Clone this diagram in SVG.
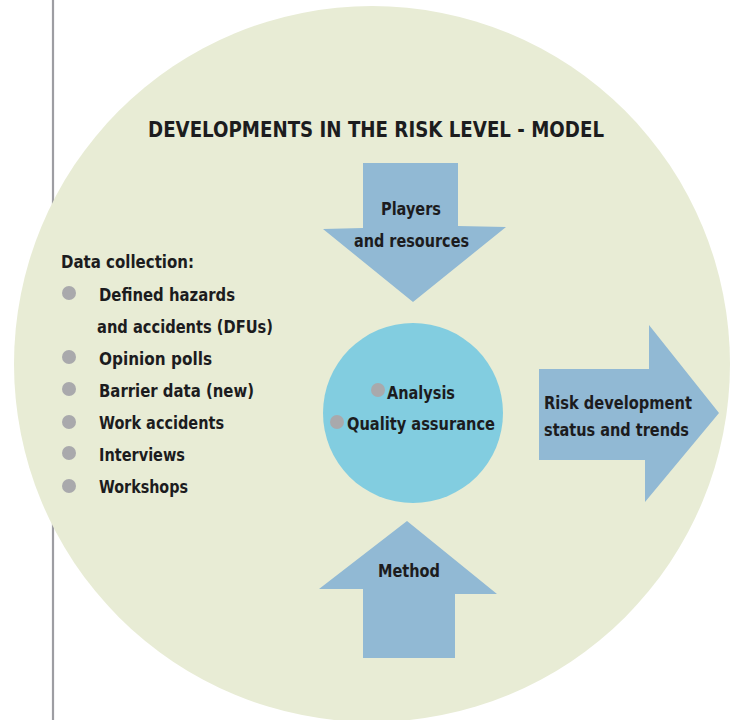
<svg xmlns="http://www.w3.org/2000/svg" width="731" height="720" viewBox="0 0 731 720">
<style>
.t{font-family:"DejaVu Sans Condensed","DejaVu Sans","Liberation Sans",sans-serif;font-weight:bold;fill:#1c1c1e;font-size:18.5px}
.ttl{font-size:21px}
.arrow{fill:#91b9d4}
.dot{fill:#a9a9ac}
</style>
<rect width="731" height="720" fill="#ffffff"/>
<line x1="53" y1="0" x2="53" y2="720" stroke="#9d9da2" stroke-width="2.2"/>
<g id="background">
<circle cx="372" cy="364" r="358" fill="#e8ecd5"/>
</g>
<g id="title">
<text class="t ttl" x="148" y="137" textLength="456" lengthAdjust="spacingAndGlyphs">DEVELOPMENTS IN THE RISK LEVEL - MODEL</text>
</g>
<g id="data-collection">
<text class="t" x="61" y="268" textLength="133" lengthAdjust="spacingAndGlyphs">Data collection:</text>
<circle class="dot" cx="69" cy="293" r="7"/>
<text class="t" x="99" y="301" textLength="136" lengthAdjust="spacingAndGlyphs">Defined hazards</text>
<text class="t" x="97" y="333" textLength="176" lengthAdjust="spacingAndGlyphs">and accidents (DFUs)</text>
<circle class="dot" cx="69" cy="357" r="7"/>
<text class="t" x="99" y="365" textLength="113" lengthAdjust="spacingAndGlyphs">Opinion polls</text>
<circle class="dot" cx="69" cy="389" r="7"/>
<text class="t" x="99" y="397" textLength="155" lengthAdjust="spacingAndGlyphs">Barrier data (new)</text>
<circle class="dot" cx="69" cy="422" r="7"/>
<text class="t" x="99" y="429" textLength="125" lengthAdjust="spacingAndGlyphs">Work accidents</text>
<circle class="dot" cx="69" cy="453" r="7"/>
<text class="t" x="99" y="461" textLength="86" lengthAdjust="spacingAndGlyphs">Interviews</text>
<circle class="dot" cx="69" cy="486" r="7"/>
<text class="t" x="99" y="493" textLength="89" lengthAdjust="spacingAndGlyphs">Workshops</text>
</g>
<g id="players-arrow">
<polygon class="arrow" points="363,163 458,163 458,226 506,227 413,302 323,229 363,228"/>
<text class="t" x="381" y="215" textLength="60" lengthAdjust="spacingAndGlyphs">Players</text>
<text class="t" x="354" y="247" textLength="115" lengthAdjust="spacingAndGlyphs">and resources</text>
</g>
<g id="center">
<circle cx="413" cy="413" r="90" fill="#82cde0"/>
<circle class="dot" cx="378" cy="390" r="7"/>
<text class="t" x="387" y="399" textLength="68" lengthAdjust="spacingAndGlyphs">Analysis</text>
<circle class="dot" cx="337" cy="422" r="7"/>
<text class="t" x="347" y="430" textLength="148" lengthAdjust="spacingAndGlyphs">Quality assurance</text>
</g>
<g id="result-arrow">
<polygon class="arrow" points="539,369 649,369 649,325 719,413 645,502 645,460 539,460"/>
<text class="t" x="544" y="409" textLength="148" lengthAdjust="spacingAndGlyphs">Risk development</text>
<text class="t" x="544" y="436" textLength="145" lengthAdjust="spacingAndGlyphs">status and trends</text>
</g>
<g id="method-arrow">
<polygon class="arrow" points="407,521 497,594 455,594 455,658 363,658 363,589 319,589"/>
<text class="t" x="378" y="577" textLength="62" lengthAdjust="spacingAndGlyphs">Method</text>
</g>
<g id="connectors"/>
</svg>
